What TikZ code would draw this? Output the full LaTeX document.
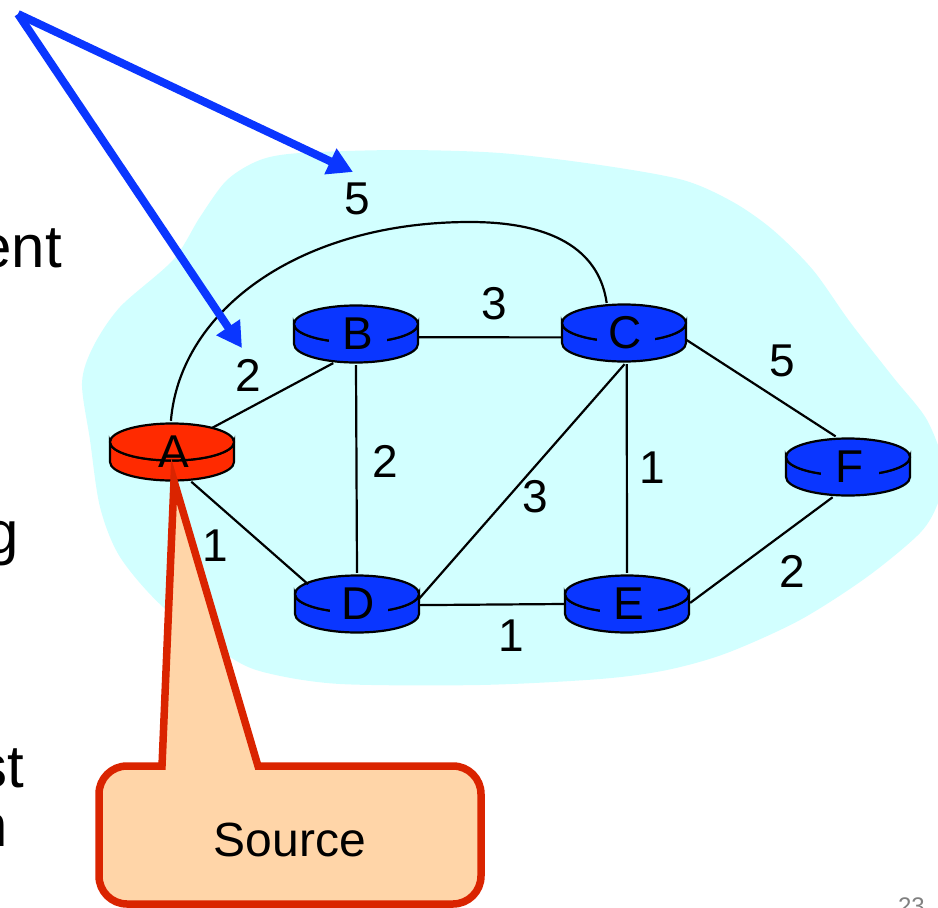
\documentclass[tikz,border=0pt]{standalone}
\usepackage{fontspec}
\setmainfont{Liberation Sans}
\usetikzlibrary{arrows.meta, shapes.geometric}
\definecolor{cloudcyan}{HTML}{D2FFFF}
\definecolor{routerblue}{HTML}{0A36FF}
\definecolor{routerred}{HTML}{FF2A00}
\definecolor{calloutfill}{HTML}{FFD5A8}
\definecolor{calloutline}{HTML}{DA2400}
\tikzstyle{router} = [ellipse, inner sep=0pt, minimum width=126pt, minimum height=62pt]
\tikzstyle{link} = [draw=black, line width=2.2pt]
\tikzstyle{pointer} = [draw=routerblue, line width=8pt, -{Triangle[length=25pt,width=27pt]}]
\tikzstyle{weight} = [font=\fontsize{46}{50}\selectfont, inner sep=0pt]
\tikzstyle{slidetext} = [font=\fontsize{60}{64}\selectfont, inner sep=0pt, anchor=base east]
\newcommand{\routernode}[6]{%
  \begin{scope}[shift={(#2,#3)}, x=1pt, y=1pt, fill=#4, draw=black, line width=2.2pt]
    \filldraw (-62,-10) -- (-62,10) arc[start angle=180, end angle=360, x radius=62, y radius=18.5] -- (62,-10) arc[start angle=0, end angle=-180, x radius=62, y radius=18.5] -- cycle;
    \filldraw (0,10) ellipse [x radius=62, y radius=18.5];
  \end{scope}
  \node (#1) [router, label={[font=\fontsize{46}{50}\selectfont, fill=#6, minimum width=58pt, inner ysep=0pt, xshift=1.5pt]center:#5}] at (#2,#3) {};
}

\begin{document}
\begin{tikzpicture}[x=1pt, y=-1pt]
\useasboundingbox (0,0) rectangle (938,908);

% Cloud behind the network
\fill [cloudcyan] plot [smooth cycle, tension=0.5] coordinates {(300,153) (400,150) (500,153) (600,165) (683,180) (733,202) (773,230) (813,270) (850,322) (893,377) (927,420) (945,470) (938,503) (920,533) (867,577) (800,620) (727,653) (667,670) (600,679) (480,685) (340,684) (267,673) (230,657) (163,607) (120,557) (100,507) (90,440) (82,383) (93,347) (120,307) (173,260) (200,217) (227,180) (260,160)};

% Cut off slide text
\node (textent) [slidetext] at (62,267) {ent};
\node (textg) [slidetext] at (19,553) {g};
\node (textst) [slidetext] at (24,787) {st};
\node (textn) [slidetext] at (8,846) {n};
\node (pagenum) [font=\fontsize{24}{26}\selectfont, text=gray, anchor=base east, inner sep=0pt] at (925,914) {23};

% Routers
\routernode{A}{172}{452}{routerred}{A}{none}
\routernode{B}{356}{334}{routerblue}{B}{routerblue}
\routernode{C}{624}{333}{routerblue}{C}{routerblue}
\routernode{D}{357}{604}{routerblue}{D}{routerblue}
\routernode{E}{627}{604}{routerblue}{E}{routerblue}
\routernode{F}{848}{467}{routerblue}{F}{routerblue}

% Links between routers
\draw [link] (A.92) .. controls (180,310) and (300,222) .. (470,222) .. controls (560,222) and (600,255) .. (C.120);
\draw [link] (A.31) -- (B.-128);
\draw [link] (A.-57) -- (D.158);
\draw [link] (B.-3) -- (C.-176);
\draw [link] (B.south) -- (D.north);
\draw [link] (C.-89) -- (D.5);
\draw [link] (C.-85) -- (E.north);
\draw [link] (C.-6) -- (F.112);
\draw [link] (D.-1) -- (E.180);
\draw [link] (E.1) -- (F.-117);

% Link costs
\node (costac) [weight] at (357,199) {5};
\node (costab) [weight] at (248,375) {2};
\node (costbc) [weight] at (494,304) {3};
\node (costcf) [weight] at (782,361) {5};
\node (costbd) [weight] at (385,461) {2};
\node (costcd) [weight] at (535,497) {3};
\node (costce) [weight] at (652,468) {1};
\node (costad) [weight] at (215,546) {1};
\node (costef) [weight] at (792,571) {2};
\node (costde) [weight] at (511,636) {1};

% Blue pointers
\coordinate (pointstart) at (18,14);
\coordinate (pointac) at (353,172);
\coordinate (pointab) at (242,348);
\draw [pointer] (pointstart) -- (pointac);
\draw [pointer] (pointstart) -- (pointab);

% Source callout
\draw [fill=calloutfill, draw=calloutline, line width=7.5pt] (162,766) -- (174,481) -- (258,766) [rounded corners=28pt] -- (481,766) -- (481,904) -- (99,904) -- (99,766) [sharp corners] -- (162,766) -- cycle;
\node (source) [font=\fontsize{48}{50}\selectfont, inner sep=0pt] at (290,840) {Source};

\end{tikzpicture}
\end{document}
